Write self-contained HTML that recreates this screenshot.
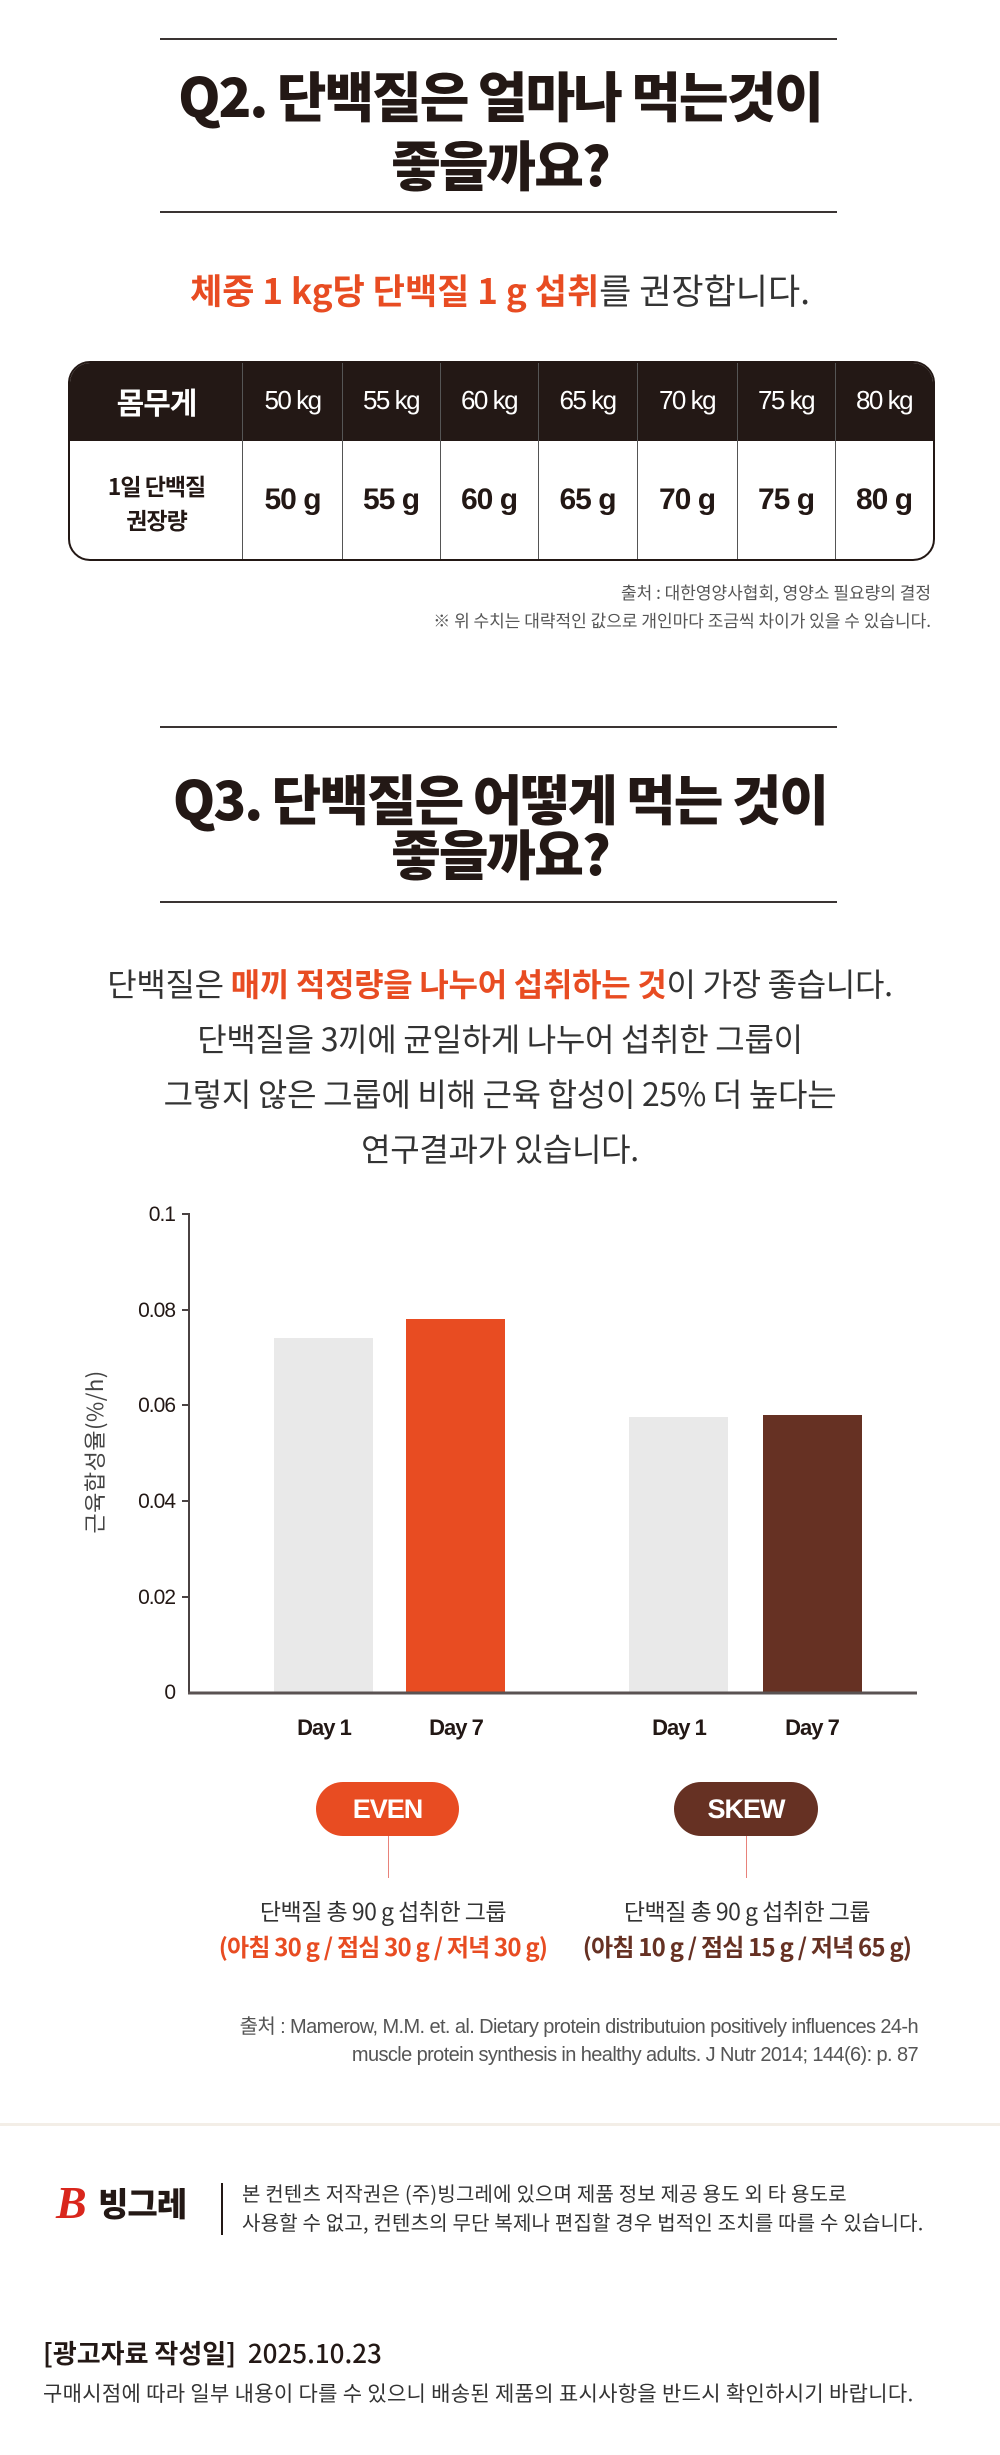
<!DOCTYPE html>
<html><head><meta charset="utf-8">
<style>
*{margin:0;padding:0;box-sizing:border-box}
body{width:1000px;height:2455px;background:#fff;position:relative;overflow:hidden;font-family:"Liberation Sans","Noto Sans CJK KR",sans-serif;color:#231815}
.a{position:absolute}
.c{text-align:center;left:0;width:1000px}
.hl{position:absolute;left:160px;width:677px;height:2px;background:#3a3433}
.t{font-weight:900;font-size:54px;letter-spacing:-2px;line-height:1;font-family:"Noto Sans CJK KR",sans-serif}
.o{color:#e84c22}
</style></head><body>

<div class="hl" style="top:38px"></div>
<div class="a c t" style="top:67px">Q2. 단백질은 얼마나 먹는것이</div>
<div class="a c t" style="top:136px">좋을까요?</div>
<div class="hl" style="top:211px"></div>

<div class="a c" style="top:264px;font-size:35px;letter-spacing:0px;font-family:'Noto Sans CJK KR',sans-serif;color:#333"><b class="o" style="font-weight:700">체중 1 kg당 단백질 1 g 섭취</b>를 권장합니다.</div>

<div class="a" style="left:68px;top:361px;width:867px;height:200px;border:2px solid #231815;border-radius:22px;overflow:hidden;font-family:'Noto Sans CJK KR',sans-serif">
 <div class="a" style="left:0;top:0;width:867px;height:78px;background:#231815"></div>
 <div class="a" style="left:0;top:0;width:173px;height:78px;line-height:76px;text-align:center;color:#fff;font-weight:700;font-size:30px;letter-spacing:-1px">몸무게</div>
 <div class="a" style="left:0;top:78px;width:173px;height:122px;display:flex;align-items:center;justify-content:center;text-align:center;font-weight:700;font-size:23px;line-height:34px;letter-spacing:-1px">1일 단백질<br>권장량</div>
</div>

<div class="a" style="right:69px;top:578px;font-size:17px;color:#555;text-align:right;line-height:28px;letter-spacing:0px;font-family:'Noto Sans CJK KR',sans-serif">출처 : 대한영양사협회, 영양소 필요량의 결정<br>※ 위 수치는 대략적인 값으로 개인마다 조금씩 차이가 있을 수 있습니다.</div>

<div class="hl" style="top:726px"></div>
<div class="a c t" style="top:770px">Q3. 단백질은 어떻게 먹는 것이</div>
<div class="a c t" style="top:825px">좋을까요?</div>
<div class="hl" style="top:901px"></div>

<div class="a c" style="top:956px;font-size:32px;letter-spacing:-0.3px;line-height:55px;color:#333;font-family:'Noto Sans CJK KR',sans-serif">단백질은 <b class="o" style="font-weight:700">매끼 적정량을 나누어 섭취하는 것</b>이 가장 좋습니다.<br>단백질을 3끼에 균일하게 나누어 섭취한 그룹이<br>그렇지 않은 그룹에 비해 근육 합성이 25% 더 높다는<br>연구결과가 있습니다.</div>

<svg class="a" style="left:0;top:1180px" width="1000" height="600" viewBox="0 1180 1000 600" font-family="Liberation Sans, Noto Sans CJK KR, sans-serif">
 <rect x="274" y="1338" width="99" height="354" fill="#e9e9e9"/>
 <rect x="406" y="1319" width="99" height="373" fill="#e84c22"/>
 <rect x="629" y="1417" width="99" height="275" fill="#e9e9e9"/>
 <rect x="763" y="1415" width="99" height="277" fill="#663123"/>
 <line x1="189" y1="1213" x2="189" y2="1693" stroke="#4a4242" stroke-width="2"/>
 <line x1="188" y1="1693" x2="917" y2="1693" stroke="#5a5252" stroke-width="3"/>
 <g stroke="#4a4242" stroke-width="2">
  <line x1="182" y1="1214" x2="189" y2="1214"/><line x1="182" y1="1310" x2="189" y2="1310"/>
  <line x1="182" y1="1405" x2="189" y2="1405"/><line x1="182" y1="1501" x2="189" y2="1501"/>
  <line x1="182" y1="1597" x2="189" y2="1597"/>
 </g>
 <g font-size="21" fill="#231815" text-anchor="end" letter-spacing="-1">
  <text x="175" y="1221">0.1</text><text x="175" y="1317">0.08</text><text x="175" y="1412">0.06</text>
  <text x="175" y="1508">0.04</text><text x="175" y="1604">0.02</text><text x="175" y="1699">0</text>
 </g>
 <text transform="translate(103,1452) rotate(-90)" text-anchor="middle" font-size="22" letter-spacing="0.5" fill="#444" font-family="Noto Sans CJK KR, sans-serif">근육합성율(%/h)</text>
 <g font-size="22" font-weight="bold" fill="#231815" text-anchor="middle" letter-spacing="-1">
  <text x="324" y="1735">Day 1</text><text x="456" y="1735">Day 7</text>
  <text x="679" y="1735">Day 1</text><text x="812" y="1735">Day 7</text>
 </g>
</svg>

<div class="a" style="left:316px;top:1782px;width:143px;height:54px;border-radius:27px;background:#e84c22;color:#fff;font-weight:700;font-size:27px;line-height:54px;text-align:center;letter-spacing:-1px">EVEN</div>
<div class="a" style="left:674px;top:1782px;width:144px;height:54px;border-radius:27px;background:#663123;color:#fff;font-weight:700;font-size:27px;line-height:54px;text-align:center;letter-spacing:-1px">SKEW</div>
<div class="a" style="left:388px;top:1836px;width:1px;height:42px;background:#e8827a"></div>
<div class="a" style="left:746px;top:1836px;width:1px;height:42px;background:#e8827a"></div>

<div class="a" style="left:183px;width:400px;top:1893px;text-align:center;font-size:23px;letter-spacing:-0.5px;color:#333;font-family:'Noto Sans CJK KR',sans-serif">단백질 총 90 g 섭취한 그룹</div>
<div class="a" style="left:547px;width:400px;top:1893px;text-align:center;font-size:23px;letter-spacing:-0.5px;color:#333;font-family:'Noto Sans CJK KR',sans-serif">단백질 총 90 g 섭취한 그룹</div>
<div class="a" style="left:173px;width:420px;top:1928px;text-align:center;font-size:24px;font-weight:700;letter-spacing:-0.8px;color:#e84c22;font-family:'Noto Sans CJK KR',sans-serif">(아침 30 g / 점심 30 g / 저녁 30 g)</div>
<div class="a" style="left:537px;width:420px;top:1928px;text-align:center;font-size:24px;font-weight:700;letter-spacing:-0.8px;color:#663123;font-family:'Noto Sans CJK KR',sans-serif">(아침 10 g / 점심 15 g / 저녁 65 g)</div>

<div class="a" style="right:82px;top:2013px;text-align:right;font-size:20px;line-height:28px;letter-spacing:-0.6px;color:#555">출처 : Mamerow, M.M. et. al. Dietary protein distributuion positively influences 24-h<br>muscle protein synthesis in healthy adults. J Nutr 2014; 144(6): p. 87</div>

<div class="a" style="left:0;top:2123px;width:1000px;height:3px;background:#f3eee7"></div>

<div class="a" style="left:56px;top:2180px;font-size:46px;font-weight:900;font-style:italic;color:#d9261c;font-family:'Liberation Serif',serif;line-height:1">B</div>
<div class="a" style="left:98px;top:2183px;font-size:33px;font-weight:900;color:#231815;font-family:'Noto Sans CJK KR',sans-serif;letter-spacing:-1px;line-height:1.2">빙그레</div>
<div class="a" style="left:221px;top:2183px;width:2px;height:52px;background:#231815"></div>
<div class="a" style="left:242px;top:2178px;font-size:20px;line-height:29px;letter-spacing:0.2px;color:#333;font-family:'Noto Sans CJK KR',sans-serif;white-space:nowrap">본 컨텐츠 저작권은 (주)빙그레에 있으며 제품 정보 제공 용도 외 타 용도로<br>사용할 수 없고, 컨텐츠의 무단 복제나 편집할 경우 법적인 조치를 따를 수 있습니다.</div>

<div class="a" style="left:43px;top:2334px;font-size:26px;font-weight:700;letter-spacing:0px;color:#231815;font-family:'Noto Sans CJK KR',sans-serif">[광고자료 작성일]&nbsp; <span style="font-weight:500">2025.10.23</span></div>
<div class="a" style="left:43px;top:2378px;font-size:21px;letter-spacing:0.3px;color:#333;font-family:'Noto Sans CJK KR',sans-serif;white-space:nowrap">구매시점에 따라 일부 내용이 다를 수 있으니 배송된 제품의 표시사항을 반드시 확인하시기 바랍니다.</div>

<div class="a" style="left:242px;top:363px;width:1px;height:196px;background:#555"></div>
<div class="a" style="left:342px;top:363px;width:1px;height:196px;background:#555"></div>
<div class="a" style="left:440px;top:363px;width:1px;height:196px;background:#555"></div>
<div class="a" style="left:538px;top:363px;width:1px;height:196px;background:#555"></div>
<div class="a" style="left:637px;top:363px;width:1px;height:196px;background:#555"></div>
<div class="a" style="left:737px;top:363px;width:1px;height:196px;background:#555"></div>
<div class="a" style="left:835px;top:363px;width:1px;height:196px;background:#555"></div>
<div class="a" style="left:243px;top:361px;width:692px;font-family:'Liberation Sans','Noto Sans CJK KR',sans-serif">
 <div style="display:flex;height:78px;align-items:center;color:#fff;font-size:26px;letter-spacing:-1.5px">
  <div style="width:99px;text-align:center">50 kg</div><div style="width:98px;text-align:center">55 kg</div><div style="width:98px;text-align:center">60 kg</div><div style="width:99px;text-align:center">65 kg</div><div style="width:100px;text-align:center">70 kg</div><div style="width:98px;text-align:center">75 kg</div><div style="width:98px;text-align:center">80 kg</div>
 </div>
 <div style="display:flex;height:122px;align-items:center;font-weight:700;font-size:30px;letter-spacing:-1px">
  <div style="width:99px;text-align:center">50 g</div><div style="width:98px;text-align:center">55 g</div><div style="width:98px;text-align:center">60 g</div><div style="width:99px;text-align:center">65 g</div><div style="width:100px;text-align:center">70 g</div><div style="width:98px;text-align:center">75 g</div><div style="width:98px;text-align:center">80 g</div>
 </div>
</div>
</body></html>
